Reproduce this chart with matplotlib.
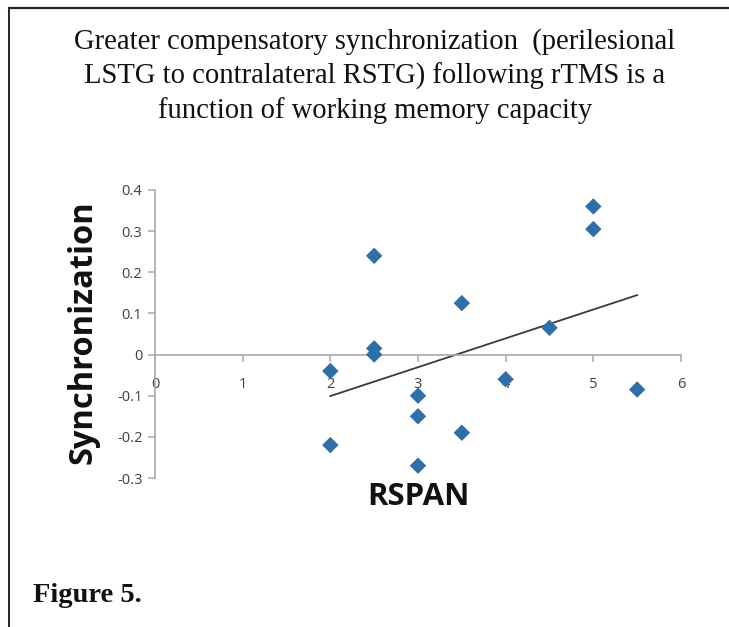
import numpy as np
import matplotlib
matplotlib.use('Agg')
import matplotlib.pyplot as plt
from matplotlib.lines import Line2D

# Data (RSPAN vs synchronization)
rspan = [2, 2, 2.5, 2.5, 2.5, 3, 3, 3, 3.5, 3.5, 4, 4.5, 5, 5, 5.5]
sync = [-0.04, -0.22, 0.24, 0.015, 0.0, -0.10, -0.15, -0.27,
        0.125, -0.19, -0.06, 0.065, 0.36, 0.305, -0.085]
x_ticks = [0, 1, 2, 3, 4, 5, 6]
y_ticks = [-0.3, -0.2, -0.1, 0, 0.1, 0.2, 0.3, 0.4]
y_tick_labels = ['-0.3', '-0.2', '-0.1', '0', '0.1', '0.2', '0.3', '0.4']

TITLE = ('Greater compensatory synchronization  (perilesional\n'
         'LSTG to contralateral RSTG) following rTMS is a\n'
         'function of working memory capacity')
MARKER_COLOR = '#2f6ea6'
AXIS_COLOR = '#a8a8b8'
TICK_TEXT = '#404040'

W, H = 729, 627
fig = plt.figure(figsize=(W / 100, H / 100), dpi=100, facecolor='white')

# frame lines (top and left edge of the scanned figure)
fig.add_artist(Line2D([9 / W, 1], [1 - 8 / H, 1 - 8 / H], color='#222222', lw=1.6,
                      transform=fig.transFigure))
fig.add_artist(Line2D([9 / W, 9 / W], [0, 1 - 8 / H], color='#222222', lw=1.4,
                      transform=fig.transFigure))

fig.text(375 / W, 1 - 76 / H, TITLE, ha='center', va='center', fontsize=20.6,
         family='Liberation Serif', linespacing=1.33, color='#111111')
fig.text(33 / W, 1 - 596 / H, 'Figure 5.', ha='left', va='center', fontsize=20.5,
         family='Liberation Serif', fontweight='bold', color='#111111')

ax = fig.add_axes([155 / W, 1 - 478 / H, (681 - 155) / W, (478 - 190) / H])
ax.set_xlim(0, 6)
ax.set_ylim(-0.3, 0.4)

ax.scatter(rspan, sync, marker='D', s=70, color=MARKER_COLOR, edgecolors='none', zorder=3)

# linear trend line over the data range
slope, intercept = np.polyfit(rspan, sync, 1)
xs = np.array([min(rspan), max(rspan)])
ax.plot(xs, slope * xs + intercept, color='#3a3a3a', lw=1.3, zorder=2)

for side in ['top', 'right']:
    ax.spines[side].set_visible(False)
ax.spines['bottom'].set_position(('data', 0))
ax.spines['bottom'].set_color(AXIS_COLOR)
ax.spines['left'].set_color(AXIS_COLOR)
ax.spines['bottom'].set_linewidth(1.2)
ax.spines['left'].set_linewidth(1.2)

ax.set_xticks(x_ticks)
ax.set_xticklabels([str(t) for t in x_ticks])
ax.set_yticks(y_ticks)
ax.set_yticklabels(y_tick_labels)
ax.tick_params(axis='both', colors=AXIS_COLOR, labelcolor=TICK_TEXT,
               labelsize=10.5, length=5, width=1.1)
ax.tick_params(axis='x', pad=11)
ax.tick_params(axis='y', pad=4)
for lab in ax.get_xticklabels() + ax.get_yticklabels():
    lab.set_family('Open Sans')

fig.text(418 / W, 1 - 497 / H, 'RSPAN', ha='center', va='center', fontsize=22.5,
         family='Open Sans', fontweight='bold', color='#111111')
fig.text(83 / W, 1 - 332 / H, 'Synchronization', ha='center', va='center', fontsize=23.5,
         family='Open Sans', fontweight='bold', rotation=90, color='#111111')

fig.savefig('out.png', dpi=100, facecolor='white')
